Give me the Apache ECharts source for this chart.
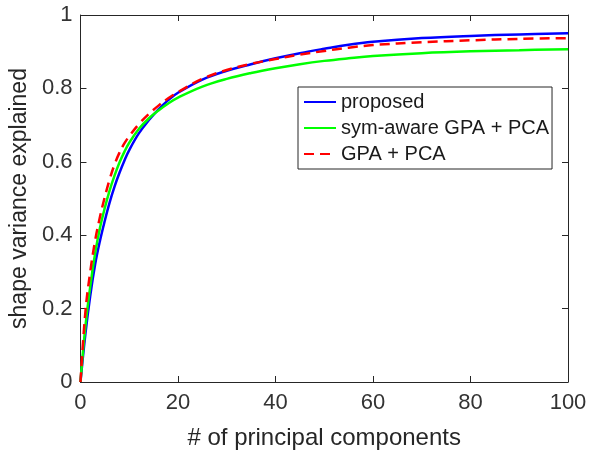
<!DOCTYPE html>
<html>
<head>
<meta charset="utf-8">
<script src="https://cdn.jsdelivr.net/npm/echarts@6/dist/echarts.min.js"></script>
<style>
html,body{margin:0;padding:0;background:#fff;}
#chart{width:593px;height:455px;}
</style>
</head>
<body>
<div id="chart"></div>
<script>
const components = [0,1,2,3,4,5,6,7,8,9,10,12,14,16,18,20,25,30,35,40,45,50,55,60,70,80,90,100];
const proposed = [0,0.13,0.235,0.32,0.385,0.44,0.49,0.533,0.57,0.603,0.632,0.678,0.713,0.743,0.768,0.788,0.824,0.848,0.866,0.882,0.896,0.908,0.919,0.927,0.937,0.943,0.947,0.950];
const symAware = [0,0.15,0.26,0.35,0.42,0.475,0.523,0.563,0.598,0.627,0.652,0.690,0.718,0.740,0.759,0.775,0.805,0.826,0.842,0.855,0.866,0.875,0.882,0.888,0.896,0.901,0.904,0.907];
const gpaPca = [0,0.19,0.30,0.385,0.45,0.505,0.553,0.593,0.625,0.650,0.670,0.703,0.730,0.753,0.773,0.790,0.826,0.850,0.867,0.880,0.892,0.902,0.911,0.918,0.926,0.931,0.935,0.937];
const seriesNames = ['proposed','sym-aware GPA + PCA','GPA + PCA'];
const xTitle = '# of principal components';
const yTitle = 'shape variance explained';

const FONT = 'Liberation Sans, Arial, Helvetica, sans-serif';
const AX = '#262626';
const pairs = ys => components.map((x,i) => [x, ys[i]]);

const chart = echarts.init(document.getElementById('chart'), null, {renderer:'canvas'});
const axisCommon = () => ({
  axisLine:{show:true, onZero:false, lineStyle:{color:AX, width:1}},
  axisTick:{show:true, inside:true, length:6, lineStyle:{color:AX, width:1}},
  splitLine:{show:false}
});
chart.setOption({
  animation:false,
  backgroundColor:'#fff',
  grid:{left:80, top:15, right:25, bottom:72, containLabel:false},
  legend:{
    orient:'vertical', left:298, top:87,
    padding:[5,3,5,5], itemGap:6, itemWidth:32, itemHeight:20,
    borderColor:AX, borderWidth:1, backgroundColor:'#fff',
    itemStyle:{opacity:0},
    textStyle:{fontFamily:FONT, fontSize:20, color:'#1a1a1a'},
    data:seriesNames
  },
  xAxis:[
    Object.assign({type:'value', min:0, max:100, interval:20, position:'bottom',
      name:xTitle, nameLocation:'middle', nameGap:44,
      nameTextStyle:{fontFamily:FONT, fontSize:24, color:'#262626'},
      axisLabel:{fontFamily:FONT, fontSize:22, color:'#333', margin:10}}, axisCommon()),
    Object.assign({type:'value', min:0, max:100, interval:20, position:'top',
      axisLabel:{show:false}}, axisCommon())
  ],
  yAxis:[
    Object.assign({type:'value', min:0, max:1, interval:0.2, position:'left',
      name:yTitle, nameLocation:'middle', nameGap:47,
      nameTextStyle:{fontFamily:FONT, fontSize:23, color:'#262626'},
      axisLabel:{fontFamily:FONT, fontSize:22, color:'#333', margin:8}}, axisCommon()),
    Object.assign({type:'value', min:0, max:1, interval:0.2, position:'right',
      axisLabel:{show:false}}, axisCommon())
  ],
  series:[
    {name:seriesNames[0], type:'line', data:pairs(proposed), smooth:0.4,
      symbol:'none', lineStyle:{color:'#0000ff', width:2.5}, itemStyle:{color:'#0000ff'}},
    {name:seriesNames[1], type:'line', data:pairs(symAware), smooth:0.4,
      symbol:'none', lineStyle:{color:'#00ff00', width:2.5}, itemStyle:{color:'#00ff00'}},
    {name:seriesNames[2], type:'line', data:pairs(gpaPca), smooth:0.4,
      symbol:'none', lineStyle:{color:'#ff0000', width:2.5, type:[10,6]}, itemStyle:{color:'#ff0000'}}
  ]
});
</script>
</body>
</html>
